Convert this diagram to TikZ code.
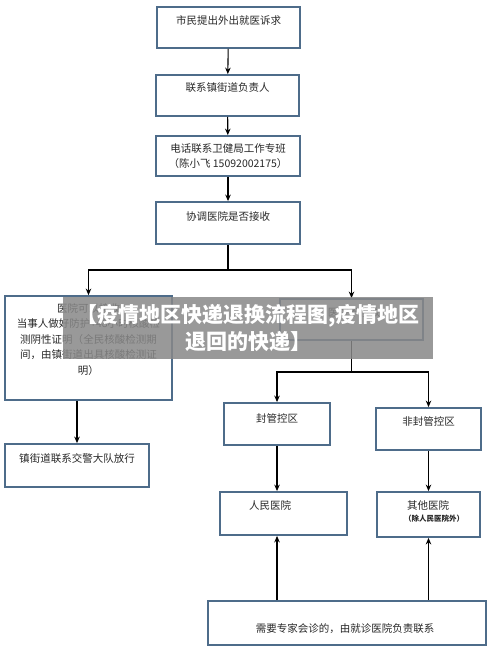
\documentclass[tikz,border=0pt]{standalone}
\usepackage{fontspec}
\newfontfamily\cjk{Noto Sans CJK SC}
\usetikzlibrary{arrows.meta, positioning}

\definecolor{boxblue}{RGB}{78,108,138}
\definecolor{inkgray}{RGB}{40,40,40}
\definecolor{bannergray}{RGB}{136,136,136}

\begin{document}
\begin{tikzpicture}[x=1pt, y=-1pt,
  box/.style={draw=boxblue, line width=1.8pt, fill=white, inner sep=0pt},
  txt/.style={font=\cjk\fontsize{10.5}{15.5}\selectfont, text=inkgray, align=center, inner sep=0pt},
  arr/.style={draw=black, line width=1.1pt, -{Stealth[length=6.5pt, width=5.5pt]}},
  link/.style={draw=black, line width=1.1pt},
  banner/.style={font=\cjk\bfseries\fontsize{21}{27}\selectfont, text=white, align=center, inner sep=0pt}]
\useasboundingbox (0,0) rectangle (500,658);
\fill[white] (0,0) rectangle (500,658);

% main column
\node[box, minimum width=143pt, minimum height=41pt] (ask) at (228.5,27.5) {};
\node[txt] (askt) at (228.5,20) {市民提出外出就医诉求};
\node[box, minimum width=143pt, minimum height=41pt] (street) at (227.5,95.5) {};
\node[txt] (streett) at (227.5,88) {联系镇街道负责人};
\node[box, minimum width=144pt, minimum height=40pt, txt] (hotline) at (228,156) {电话联系卫健局工作专班\\（陈小飞 15092002175）};
\node[box, minimum width=144pt, minimum height=42pt] (coord) at (228,223) {};
\node[txt] (coordt) at (228,216) {协调医院是否接收};

% left branch
\node[box, minimum width=167pt, minimum height=104pt] (canadmit) at (88.5,348) {};
\node[txt, anchor=north] (canadmitt) at (88.5,303) {医院可以接收\\当事人做好防护+48小时核酸检\\测阴性证明（全民核酸检测期\\间，由镇街道出具核酸检测证\\明）};
\node[box, minimum width=144pt, minimum height=43pt] (release) at (77,465.5) {};
\node[txt] (releaset) at (77,459) {镇街道联系交警大队放行};

% right branch
\node[box, minimum width=143pt, minimum height=41pt] (notadmit) at (351.5,319.5) {};
\node[txt] (notadmitt) at (354,312) {医院不接收};
\node[box, minimum width=106pt, minimum height=42pt] (sealed) at (277,424) {};
\node[txt] (sealedt) at (277,418) {封管控区};
\node[box, minimum width=105pt, minimum height=42pt] (unsealed) at (428.5,429) {};
\node[txt] (unsealedt) at (428.5,421) {非封管控区};
\node[box, minimum width=127pt, minimum height=43pt] (people) at (283.5,513.5) {};
\node[txt] (peoplet) at (270,505) {人民医院};
\node[box, minimum width=103pt, minimum height=45pt] (other) at (428.5,514.5) {};
\node[txt] (othert) at (428,505) {其他医院};
\node[txt, font=\cjk\bfseries\fontsize{7.5}{9}\selectfont] (othersub) at (434,519) {（除人民医院外）};
\node[box, minimum width=278pt, minimum height=44pt] (expert) at (347,623) {};
\node[txt] (expertt) at (345,629) {需要专家会诊的，由就诊医院负责联系};

% connectors
\coordinate (split1) at (228,270);
\coordinate (split2) at (351.5,372);
\draw[arr] (ask) -- (street);
\draw[arr] (street) -- (hotline);
\draw[arr] (hotline) -- (coord);
\draw[link] (coord.south) -- (split1);
\draw[arr] (split1) -| (canadmit.north);
\draw[arr] (split1) -| (notadmit.north);
\draw[arr] (canadmit.south -| release.north) -- (release.north);
\draw[link] (notadmit.south) -- (split2);
\draw[arr] (split2) -| (sealed.north);
\draw[arr] (split2) -| (unsealed.north);
\draw[arr] (sealed.south) -- (sealed.south |- people.north);
\draw[arr] (unsealed.south) -- (unsealed.south |- other.north);
\draw[arr] (expert.north -| sealed.south) -- (people.south -| sealed.south);
\draw[arr] (expert.north -| unsealed.south) -- (other.south -| unsealed.south);

% overlay
\fill[bannergray, fill opacity=0.85] (63,297) rectangle (433,359);
\node[banner] (title) at (248,328) {【疫情地区快递退换流程图,疫情地区\\退回的快递】};
\end{tikzpicture}
\end{document}
